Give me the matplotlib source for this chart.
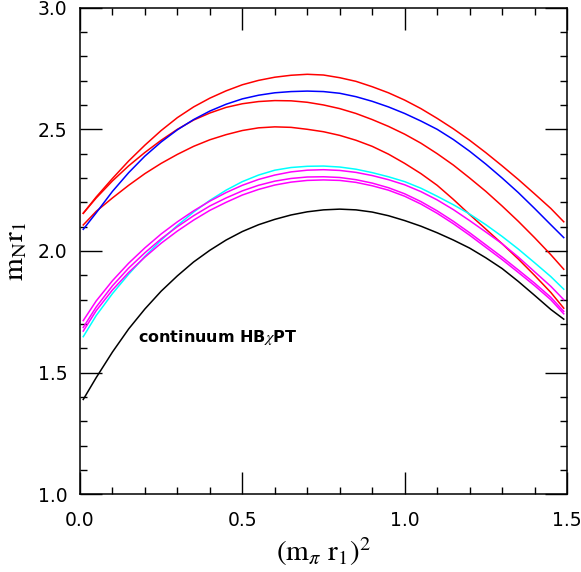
import matplotlib
matplotlib.use("Agg")
import matplotlib.pyplot as plt
from matplotlib.ticker import MultipleLocator

# sample positions along (m_pi r1)^2
X = [0.01, 0.05, 0.10, 0.15, 0.20, 0.25, 0.30, 0.35, 0.40, 0.45, 0.50, 0.55, 0.60, 0.65, 0.70, 0.75,
     0.80, 0.85, 0.90, 0.95, 1.00, 1.05, 1.10, 1.15, 1.20, 1.25, 1.30, 1.35, 1.40, 1.45, 1.49]

# values, m_N r1
RED_A = [2.155, 2.222, 2.298, 2.370, 2.435, 2.495, 2.548, 2.592, 2.628, 2.658, 2.683, 2.701, 2.714, 2.722, 2.726, 2.723,
         2.712, 2.697, 2.675, 2.650, 2.620, 2.585, 2.545, 2.502, 2.455, 2.404, 2.350, 2.294, 2.235, 2.175, 2.120]
RED_B = [2.155, 2.218, 2.288, 2.350, 2.405, 2.455, 2.500, 2.538, 2.567, 2.590, 2.605, 2.614, 2.618, 2.617, 2.611, 2.600,
         2.585, 2.565, 2.540, 2.512, 2.480, 2.443, 2.400, 2.353, 2.300, 2.245, 2.185, 2.122, 2.055, 1.985, 1.925]
RED_C = [2.107, 2.163, 2.218, 2.270, 2.318, 2.360, 2.397, 2.430, 2.457, 2.478, 2.495, 2.506, 2.510, 2.508, 2.500, 2.490,
         2.475, 2.455, 2.430, 2.398, 2.360, 2.318, 2.270, 2.212, 2.150, 2.090, 2.030, 1.967, 1.900, 1.830, 1.765]
BLUE = [2.089, 2.157, 2.245, 2.322, 2.390, 2.448, 2.498, 2.540, 2.575, 2.603, 2.625, 2.640, 2.650, 2.655, 2.657, 2.655,
        2.648, 2.634, 2.615, 2.592, 2.565, 2.534, 2.500, 2.458, 2.410, 2.357, 2.300, 2.240, 2.175, 2.108, 2.055]
CYAN = [1.648, 1.735, 1.825, 1.905, 1.978, 2.045, 2.105, 2.160, 2.208, 2.250, 2.285, 2.312, 2.332, 2.343, 2.348, 2.349,
        2.345, 2.336, 2.322, 2.305, 2.285, 2.258, 2.225, 2.190, 2.152, 2.108, 2.060, 2.008, 1.952, 1.895, 1.843]
MAG_A = [1.714, 1.795, 1.878, 1.950, 2.013, 2.070, 2.120, 2.165, 2.205, 2.240, 2.270, 2.294, 2.312, 2.325, 2.332, 2.334,
         2.331, 2.323, 2.310, 2.293, 2.272, 2.244, 2.210, 2.170, 2.125, 2.078, 2.030, 1.975, 1.915, 1.855, 1.800]
MAG_B = [1.686, 1.770, 1.857, 1.930, 1.993, 2.050, 2.100, 2.145, 2.185, 2.218, 2.247, 2.270, 2.287, 2.298, 2.304, 2.305,
         2.302, 2.293, 2.279, 2.260, 2.235, 2.203, 2.165, 2.122, 2.075, 2.025, 1.975, 1.922, 1.868, 1.810, 1.752]
MAG_C = [1.671, 1.755, 1.840, 1.912, 1.975, 2.032, 2.082, 2.127, 2.167, 2.200, 2.230, 2.253, 2.271, 2.283, 2.290, 2.292,
         2.290, 2.282, 2.268, 2.250, 2.225, 2.193, 2.155, 2.112, 2.065, 2.015, 1.965, 1.912, 1.858, 1.800, 1.742]
CONTINUUM = [1.390, 1.480, 1.585, 1.680, 1.762, 1.835, 1.898, 1.955, 2.003, 2.045, 2.080, 2.108, 2.130, 2.148, 2.161, 2.169,
             2.172, 2.169, 2.160, 2.145, 2.125, 2.102, 2.075, 2.045, 2.012, 1.972, 1.928, 1.875, 1.818, 1.760, 1.720]

plt.rcParams["mathtext.fontset"] = "stix"

fig = plt.figure(figsize=(5.81, 5.72), dpi=100)
ax = fig.add_axes([80 / 581, 1 - 494.4 / 572, 487 / 581, 486.8 / 572])

for ys, c in [(RED_A, "#ff0000"), (RED_B, "#ff0000"), (RED_C, "#ff0000"), (BLUE, "#0000ff"),
              (CYAN, "#00ffff"), (MAG_A, "#ff00ff"), (MAG_B, "#ff00ff"), (MAG_C, "#ff00ff"),
              (CONTINUUM, "black")]:
    ax.plot(X, ys, color=c, lw=1.1)

ax.text(0.18, 1.643, r"continuum HB$\chi$PT", fontsize=11.5, fontweight="bold",
        ha="left", va="center")

ax.set_xlim(0, 1.5)
ax.set_ylim(1.0, 3.0)
ax.xaxis.set_major_locator(MultipleLocator(0.5))
ax.xaxis.set_minor_locator(MultipleLocator(0.1))
ax.yaxis.set_major_locator(MultipleLocator(0.5))
ax.yaxis.set_minor_locator(MultipleLocator(0.1))
ax.xaxis.set_major_formatter(lambda v, p: f"{v:.1f}")
ax.yaxis.set_major_formatter(lambda v, p: f"{v:.1f}")
ax.tick_params(which="both", direction="in", top=True, right=True, width=1.0)
ax.tick_params(which="major", length=15.5)
ax.tick_params(which="minor", length=5.3)
ax.tick_params(axis="x", which="major", labelsize=13.5, pad=12)
ax.tick_params(axis="y", which="major", labelsize=13.5, pad=9)
for lab in ax.get_xticklabels() + ax.get_yticklabels():
    lab.set_family("DejaVu Sans")
for s in ax.spines.values():
    s.set_linewidth(1.1)

ax.set_xlabel(r"$(\mathrm{m}_\pi\ \mathrm{r}_1)^2$", fontsize=21, labelpad=4)
ax.set_ylabel(r"$\mathrm{m}_\mathrm{N}\mathrm{r}_1$", fontsize=21, labelpad=6)

fig.savefig("out.png", dpi=100)
